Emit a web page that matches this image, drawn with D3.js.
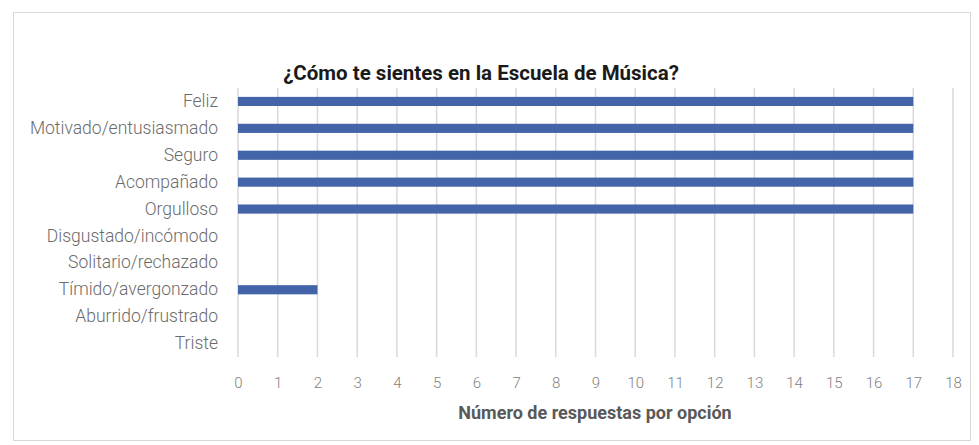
<!DOCTYPE html>
<html>
<head>
<meta charset="utf-8">
<script src="https://cdn.jsdelivr.net/npm/d3@7"></script>
<style>
  body { margin: 0; background: #fff; }
  svg text { font-family: Roboto, "Open Sans", "DejaVu Sans", sans-serif; }
</style>
</head>
<body>
<div id="chart"></div>
<script>
// categorias y respuestas
const categorias = ["Feliz", "Motivado/entusiasmado", "Seguro", "Acompañado", "Orgulloso",
  "Disgustado/incómodo", "Solitario/rechazado", "Tímido/avergonzado", "Aburrido/frustrado", "Triste"];
const respuestas = [17, 17, 17, 17, 17, 0, 0, 2, 0, 0];
const ticks = d3.range(0, 19);

const W = 979, H = 445;
const margin = { top: 88, right: 26, bottom: 92, left: 238 };
const width = 953 - margin.left;
const height = 357 - margin.top;

const svg = d3.select("#chart").append("svg")
  .attr("width", W).attr("height", H);

// marco
svg.append("rect")
  .attr("x", 13.5).attr("y", 12.5)
  .attr("width", 957).attr("height", 428)
  .attr("fill", "#fff").attr("stroke", "#d9d9d9");

const g = svg.append("g").attr("transform", `translate(${margin.left},${margin.top})`);

//////////////// Escalas ////////////////
const x = d3.scaleLinear().domain([0, 18]).range([0, width]);
const y = d3.scaleBand().domain(categorias).range([0, height]).paddingInner(0.66).paddingOuter(0.33);

// rejilla
g.selectAll(".grid")
  .data(ticks)
  .enter().append("line")
  .attr("x1", d => x(d)).attr("x2", d => x(d))
  .attr("y1", 0).attr("y2", height)
  .attr("stroke", "#d9d9d9").attr("stroke-width", 1.5);

// eje x
const xAxis = g.append("g")
  .attr("transform", `translate(0,${height})`)
  .call(d3.axisBottom(x).tickValues(ticks).tickSize(0).tickPadding(20));
xAxis.select(".domain").remove();
xAxis.selectAll("text").attr("fill", "#7f7f7f").style("font-size", "15px").style("font-weight", "300");

// eje y
const yAxis = g.append("g")
  .call(d3.axisLeft(y).tickSize(0).tickPadding(20));
yAxis.select(".domain").remove();
yAxis.selectAll("text").attr("fill", "#6b6b6b").style("font-size", "17.5px").style("font-weight", "300");

//////////////// Barras ////////////////
g.selectAll(".bar")
  .data(respuestas)
  .enter().append("rect")
  .attr("class", "bar")
  .attr("x", x(0))
  .attr("y", (d, i) => y(categorias[i]))
  .attr("width", d => x(d) - x(0))
  .attr("height", y.bandwidth())
  .attr("fill", "#4364a8");

// titulos
svg.append("text")
  .attr("x", 481).attr("y", 80)
  .attr("text-anchor", "middle")
  .style("font-size", "20.5px").style("font-weight", "bold")
  .attr("fill", "#1a1a1a")
  .text("¿Cómo te sientes en la Escuela de Música?");

svg.append("text")
  .attr("x", 595).attr("y", 419)
  .attr("text-anchor", "middle")
  .style("font-size", "18px").style("font-weight", "bold")
  .attr("fill", "#595959")
  .text("Número de respuestas por opción");
</script>
</body>
</html>
